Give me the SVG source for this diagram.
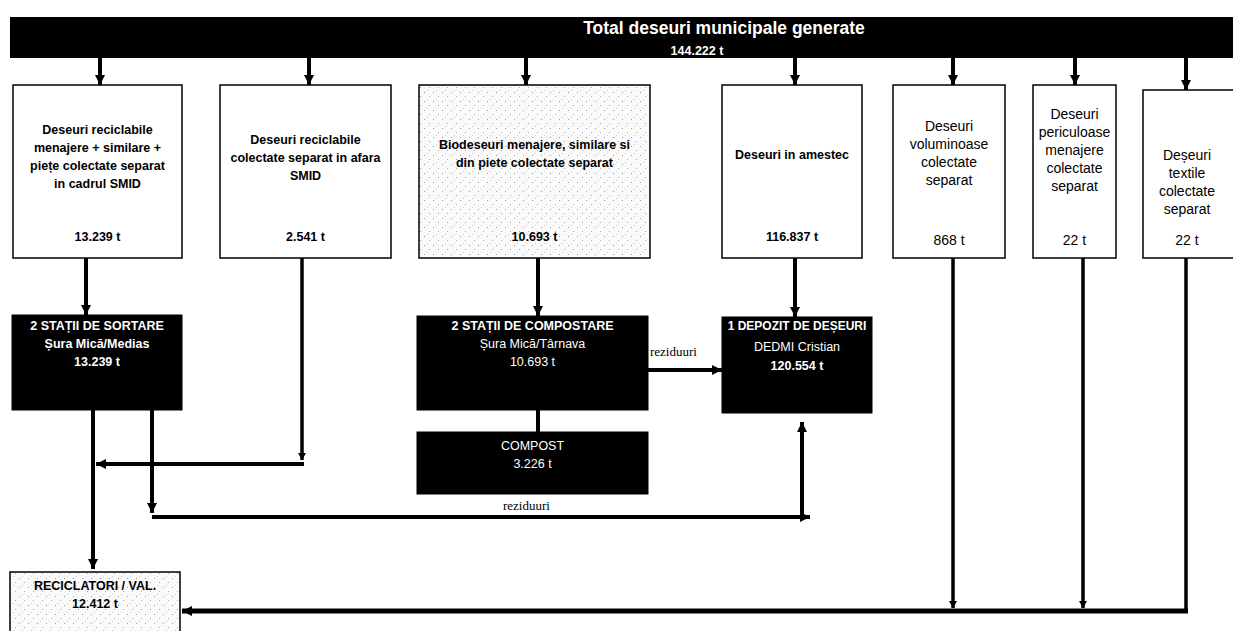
<svg xmlns="http://www.w3.org/2000/svg" width="1233" height="631" viewBox="0 0 1233 631">
<defs>
<pattern id="stip" width="9" height="9" patternUnits="userSpaceOnUse">
<rect width="9" height="9" fill="#fafafa"/>
<rect x="1" y="2" width="1" height="1" fill="#999"/>
<rect x="6" y="6" width="1" height="1" fill="#aaa"/>
<rect x="4" y="0" width="1" height="1" fill="#ccc"/>
</pattern>
<marker id="ah" markerUnits="userSpaceOnUse" markerWidth="11" markerHeight="10" refX="10" refY="5" orient="auto" viewBox="0 0 11 10">
<path d="M0,0 L10,5 L0,10 z" fill="#000"/>
</marker>
<marker id="ahs" markerUnits="userSpaceOnUse" markerWidth="8" markerHeight="8" refX="7" refY="4" orient="auto" viewBox="0 0 8 8">
<path d="M0,0 L7,4 L0,8 z" fill="#000"/>
</marker>
</defs>
<style>
.box{fill:#fff;stroke:#000;stroke-width:1.5}
.stp{fill:url(#stip);stroke:#000;stroke-width:1.5}
.blk{fill:#000;stroke:#000;stroke-width:1}
.t{font-family:"Liberation Sans",Arial,sans-serif;font-size:12.5px;font-weight:bold;fill:#000;text-anchor:middle}
.r{font-family:"Liberation Sans",Arial,sans-serif;font-size:14px;fill:#000;text-anchor:middle}
.w{font-family:"Liberation Sans",Arial,sans-serif;font-size:12.5px;font-weight:bold;fill:#fff;text-anchor:middle}
.wr{font-family:"Liberation Sans",Arial,sans-serif;font-size:12.5px;fill:#fff;text-anchor:middle}
.lbl{font-family:"Liberation Serif","Times New Roman",serif;font-size:13px;fill:#000}
.c{fill:none;stroke:#000;stroke-width:4}
.cs{fill:none;stroke:#000;stroke-width:3.5}
</style>

<g id="banner">
<rect x="10" y="17" width="1230" height="41" fill="#000"/>
<text x="724" y="34" class="w" style="font-size:17.5px">Total deseuri municipale  generate</text>
<text x="697" y="55" class="w">144.222 t</text>
</g>

<g id="connectors">
<line class="c" x1="100" y1="58" x2="100" y2="85" marker-end="url(#ah)"/>
<line class="c" x1="309" y1="58" x2="309" y2="85" marker-end="url(#ah)"/>
<line class="c" x1="526" y1="58" x2="526" y2="85" marker-end="url(#ah)"/>
<line class="c" x1="795" y1="58" x2="795" y2="85" marker-end="url(#ah)"/>
<line class="c" x1="953" y1="58" x2="953" y2="85" marker-end="url(#ah)"/>
<line class="c" x1="1075" y1="58" x2="1075" y2="85" marker-end="url(#ah)"/>
<line class="c" x1="1186" y1="58" x2="1186" y2="90" marker-end="url(#ah)"/>

<line class="c" x1="86" y1="258" x2="86" y2="315" marker-end="url(#ah)"/>
<line class="c" x1="538" y1="258" x2="538" y2="316" marker-end="url(#ah)"/>
<line class="c" x1="795" y1="258" x2="795" y2="317" marker-end="url(#ah)"/>
<line class="c" x1="538" y1="410" x2="538" y2="432"/>
<line class="c" x1="648" y1="370" x2="722" y2="370" marker-end="url(#ah)"/>

<line class="cs" x1="302" y1="258" x2="302" y2="460" marker-end="url(#ahs)"/>
<line class="c" x1="304" y1="464" x2="96" y2="464" marker-end="url(#ah)"/>
<line class="c" x1="93" y1="410" x2="93" y2="569" marker-end="url(#ah)"/>
<line class="c" x1="152" y1="410" x2="152" y2="513" marker-end="url(#ah)"/>
<line class="c" x1="152" y1="517" x2="810" y2="517" marker-end="url(#ah)"/>
<line class="c" x1="802" y1="515" x2="802" y2="422" marker-end="url(#ah)"/>

<line class="cs" x1="953" y1="258" x2="953" y2="608" marker-end="url(#ahs)"/>
<line class="cs" x1="1083" y1="258" x2="1083" y2="608" marker-end="url(#ahs)"/>
<line class="cs" x1="1186" y1="258" x2="1186" y2="612"/>
<line class="c" style="stroke-width:5" x1="1188" y1="611" x2="182" y2="611" marker-end="url(#ah)"/>
<text x="650" y="356" class="lbl">reziduuri</text>
<text x="503" y="510" class="lbl">reziduuri</text>
</g>

<g id="box1">
<rect class="box" x="13" y="85" width="169" height="173"/>
<text class="t" x="97.5" y="134">Deseuri reciclabile</text>
<text class="t" x="97.5" y="152">menajere + similare +</text>
<text class="t" x="97.5" y="170">piețe colectate separat</text>
<text class="t" x="97.5" y="188">in cadrul SMID</text>
<text class="t" x="97.5" y="241">13.239 t</text>
</g>

<g id="box2">
<rect class="box" x="220" y="85" width="171" height="173"/>
<text class="t" x="305.5" y="144">Deseuri reciclabile</text>
<text class="t" x="305.5" y="162">colectate separat in afara</text>
<text class="t" x="305.5" y="180">SMID</text>
<text class="t" x="305.5" y="241">2.541 t</text>
</g>

<g id="box3">
<rect class="stp" x="419" y="85" width="231" height="173"/>
<text class="t" x="534.5" y="149">Biodeseuri menajere, similare si</text>
<text class="t" x="534.5" y="167">din piete colectate separat</text>
<text class="t" x="534.5" y="241">10.693 t</text>
</g>

<g id="box4">
<rect class="box" x="722" y="85" width="140" height="173"/>
<text class="t" x="792" y="159">Deseuri in amestec</text>
<text class="t" x="792" y="241">116.837 t</text>
</g>

<g id="box5">
<rect class="box" x="893" y="85" width="112" height="173"/>
<text class="r" x="949" y="131">Deseuri</text>
<text class="r" x="949" y="149">voluminoase</text>
<text class="r" x="949" y="167">colectate</text>
<text class="r" x="949" y="185">separat</text>
<text class="r" x="949" y="245">868 t</text>
</g>

<g id="box6">
<rect class="box" x="1033" y="85" width="83" height="173"/>
<text class="r" x="1074.5" y="119">Deseuri</text>
<text class="r" x="1074.5" y="137">periculoase</text>
<text class="r" x="1074.5" y="155">menajere</text>
<text class="r" x="1074.5" y="173">colectate</text>
<text class="r" x="1074.5" y="191">separat</text>
<text class="r" x="1074.5" y="245">22 t</text>
</g>

<g id="box7">
<rect class="box" x="1143" y="90" width="100" height="168"/>
<text class="r" x="1187" y="160">Deșeuri</text>
<text class="r" x="1187" y="178">textile</text>
<text class="r" x="1187" y="196">colectate</text>
<text class="r" x="1187" y="214">separat</text>
<text class="r" x="1187" y="245">22 t</text>
</g>

<g id="sortare">
<rect class="blk" x="12" y="315" width="170" height="95"/>
<text class="w" x="97" y="330">2 STAȚII DE SORTARE</text>
<text class="w" x="97" y="348">Șura Mică/Medias</text>
<text class="w" x="97" y="366">13.239 t</text>
</g>

<g id="compostare">
<rect class="blk" x="417" y="316" width="231" height="94"/>
<text class="w" x="532.5" y="330">2 STAȚII DE COMPOSTARE</text>
<text class="wr" x="532.5" y="348">Șura Mică/Târnava</text>
<text class="wr" x="532.5" y="366">10.693 t</text>
</g>

<g id="compost">
<rect class="blk" x="417" y="432" width="231" height="62"/>
<text class="wr" x="532.5" y="450">COMPOST</text>
<text class="wr" x="532.5" y="468">3.226 t</text>
</g>

<g id="depozit">
<rect class="blk" x="722" y="317" width="150" height="96"/>
<text class="w" x="797" y="330" style="font-size:12px">1 DEPOZIT DE DEȘEURI</text>
<text class="wr" x="797" y="351">DEDMI Cristian</text>
<text class="w" x="797" y="370">120.554 t</text>
</g>

<g id="reciclatori">
<rect class="stp" x="10" y="572" width="170" height="70"/>
<text class="t" x="95" y="590">RECICLATORI / VAL.</text>
<text class="t" x="95" y="608">12.412 t</text>
</g>
</svg>
